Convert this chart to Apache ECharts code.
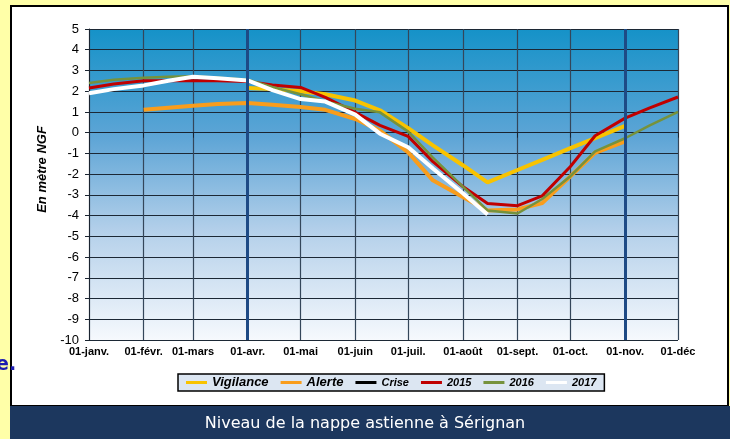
<!DOCTYPE html>
<html>
<head>
<meta charset="utf-8">
<title>Niveau de la nappe astienne</title>
<script src="https://cdn.jsdelivr.net/npm/echarts@6/dist/echarts.min.js"></script>
<style>
html,body{margin:0;padding:0;background:#FFFFA8;}
#chart_main{width:730px;height:439px;}
</style>
</head>
<body>
<div id="chart_main"></div>
<script type="text/javascript">
// dates des relevés (jour-mois)
var dates = ['01-01','01-15','02-01','02-15','03-01','03-15','04-01','04-15','05-01','05-15','06-01','06-15',
	'07-01','07-15','08-01','08-15','09-01','09-15','10-01','10-15','11-01','11-15','12-01'];
var monthTicks = ['01-01','02-01','03-01','04-01','05-01','06-01','07-01','08-01','09-01','10-01','11-01','12-01'];
var monthLabels = ['01-janv.','01-févr.','01-mars','01-avr.','01-mai','01-juin','01-juil.','01-août','01-sept.','01-oct.','01-nov.','01-déc'];
var yTicks = [-10,-9,-8,-7,-6,-5,-4,-3,-2,-1,0,1,2,3,4,5];
var periodLines = ['04-01','11-01'];

var vigilance = [null,null,null,null,null,null,2.15,2.1,2.0,1.85,1.55,1.08,0.22,-0.61,-1.57,-2.4,-1.8,-1.31,-0.75,-0.26,0.33,null,null];
var alerte = [null,null,1.1,1.2,1.3,1.38,1.43,1.35,1.24,1.1,0.66,0.1,-0.95,-2.3,-3.1,-3.75,-3.7,-3.4,-2.1,-0.97,-0.42,null,null];
var crise = [];
var y2015 = [2.15,2.35,2.5,2.5,2.5,2.5,2.47,2.3,2.18,1.7,0.98,0.35,-0.18,-1.4,-2.6,-3.42,-3.52,-3.05,-1.63,-0.15,0.7,1.2,1.72];
var y2016 = [2.4,2.55,2.65,2.7,2.72,2.65,2.55,2.2,1.85,1.5,1.15,0.98,0.05,-1.2,-2.6,-3.75,-3.9,-3.2,-2.1,-0.9,-0.27,0.35,1.0];
var y2017 = [1.9,2.1,2.28,2.5,2.7,2.62,2.52,2.05,1.62,1.5,0.87,-0.05,-0.7,-1.73,-2.92,-3.95,null,null,null,null,null,null,null];

// jour de l'année à partir de "mm-jj"
function dayOf(s){
	var p = s.split('-');
	return (Date.UTC(2017,parseInt(p[0],10)-1,parseInt(p[1],10)) - Date.UTC(2017,0,1))/86400000;
}
function pairs(vals){
	var out = [];
	for(var i=0;i<vals.length;i++){
		if(vals[i] !== null && vals[i] !== undefined){
			out.push([dayOf(dates[i]),vals[i]]);
		}
	}
	return out;
}
var tickDays = monthTicks.map(dayOf);
var labelMap = {};
tickDays.forEach(function(d,i){ labelMap[d] = monthLabels[i]; });

var font = 'Liberation Sans, Arial, sans-serif';
var myChart = echarts.init(document.getElementById('chart_main'));

var option = {
	backgroundColor: '#FFFFA8',
	animation: false,
	title: {
		text: 'Niveau de la nappe astienne à Sérignan',
		left: 'center',
		top: 411,
		textStyle: {color:'#ffffff',fontSize:16,fontWeight:'normal',fontFamily:'DejaVu Sans, sans-serif'}
	},
	graphic: [
		{type:'rect',z:-10,shape:{x:11,y:6,width:717,height:400},style:{fill:'#ffffff',stroke:'#000000',lineWidth:2}},
		{type:'rect',z:-9,shape:{x:10,y:406,width:720,height:33},style:{fill:'#1C375E'}},
		{type:'text',z:-9,left:-4,top:356,style:{text:'e.',fill:'#1b1bb0',font:'bold 19px DejaVu Sans, sans-serif'}}
	],
	legend: {
		left: 178,
		top: 374,
		padding: [2,8,2,8],
		itemGap: 12,
		itemWidth: 21,
		itemHeight: 3,
		icon: 'rect',
		backgroundColor: '#DCE6F2',
		borderColor: '#000000',
		borderWidth: 1.5,
		borderRadius: 0,
		data: ['Vigilance','Alerte','Crise','2015','2016','2017'],
		formatter: function(name){
			return (name == 'Vigilance' || name == 'Alerte') ? '{b|'+name+'}' : '{s|'+name+'}';
		},
		textStyle: {
			rich: {
				b: {fontSize:13,fontWeight:'bold',fontStyle:'italic',fontFamily:font,color:'#000'},
				s: {fontSize:11,fontWeight:'bold',fontStyle:'italic',fontFamily:font,color:'#000'}
			}
		}
	},
	grid: {
		left: 89,
		right: 52,
		top: 29,
		bottom: 99,
		show: true,
		borderWidth: 0,
		backgroundColor: new echarts.graphic.LinearGradient(0,0,0,1,[
			{offset:0,color:'#1592C8'},
			{offset:0.35,color:'#5EA5D6'},
			{offset:0.65,color:'#B4D0EA'},
			{offset:1,color:'#F6F9FD'}
		])
	},
	xAxis: {
		type: 'value',
		min: tickDays[0],
		max: tickDays[tickDays.length-1],
		axisLine: {show:true,lineStyle:{color:'#1a2430',width:1}},
		axisTick: {show:true,length:5,customValues:tickDays,lineStyle:{color:'#1a2430'}},
		axisLabel: {
			customValues: tickDays,
			margin: 6,
			color: '#000',
			fontSize: 11,
			fontWeight: 'bold',
			fontFamily: font,
			formatter: function(v){ return labelMap[v] || ''; }
		},
		splitLine: {show:true,lineStyle:{color:'#34465a',width:1.2}}
	},
	yAxis: {
		type: 'value',
		min: yTicks[0],
		max: yTicks[yTicks.length-1],
		interval: 1,
		name: 'En mètre NGF',
		nameLocation: 'middle',
		nameGap: 29,
		nameRotate: 90,
		nameTextStyle: {fontSize:13,fontWeight:'bold',fontStyle:'italic',fontFamily:font,color:'#000',padding:[0,0,0,30]},
		axisLine: {show:true,lineStyle:{color:'#1a2430',width:1}},
		axisTick: {show:true,length:4,lineStyle:{color:'#1a2430'}},
		axisLabel: {margin:10,color:'#000',fontSize:13,fontFamily:font},
		splitLine: {show:true,lineStyle:{color:'#1c2835',width:1.2}}
	},
	series: [
		{
			name: 'Vigilance', type: 'line', symbol: 'none', z: 3,
			itemStyle: {color:'#F8C300'}, lineStyle: {color:'#F8C300',width:4},
			data: pairs(vigilance),
			markLine: {
				silent: true, symbol: ['none','none'], label: {show:false},
				lineStyle: {color:'#1E4A85',width:3,type:'solid'},
				data: periodLines.map(function(d){ return {xAxis: dayOf(d)}; })
			}
		},
		{name:'Alerte',type:'line',symbol:'none',z:3,itemStyle:{color:'#F99D1C'},lineStyle:{color:'#F99D1C',width:4},data:pairs(alerte)},
		{name:'Crise',type:'line',symbol:'none',z:3,itemStyle:{color:'#000000'},lineStyle:{color:'#000000',width:2},data:crise},
		{name:'2015',type:'line',symbol:'none',z:3,itemStyle:{color:'#C00000'},lineStyle:{color:'#C00000',width:3},data:pairs(y2015)},
		{name:'2016',type:'line',symbol:'none',z:3,itemStyle:{color:'#76923C'},lineStyle:{color:'#76923C',width:2.5},data:pairs(y2016)},
		{name:'2017',type:'line',symbol:'none',z:3,itemStyle:{color:'#FFFFFF'},lineStyle:{color:'#FFFFFF',width:4},data:pairs(y2017)}
	]
};
myChart.setOption(option);
</script>
</body>
</html>
